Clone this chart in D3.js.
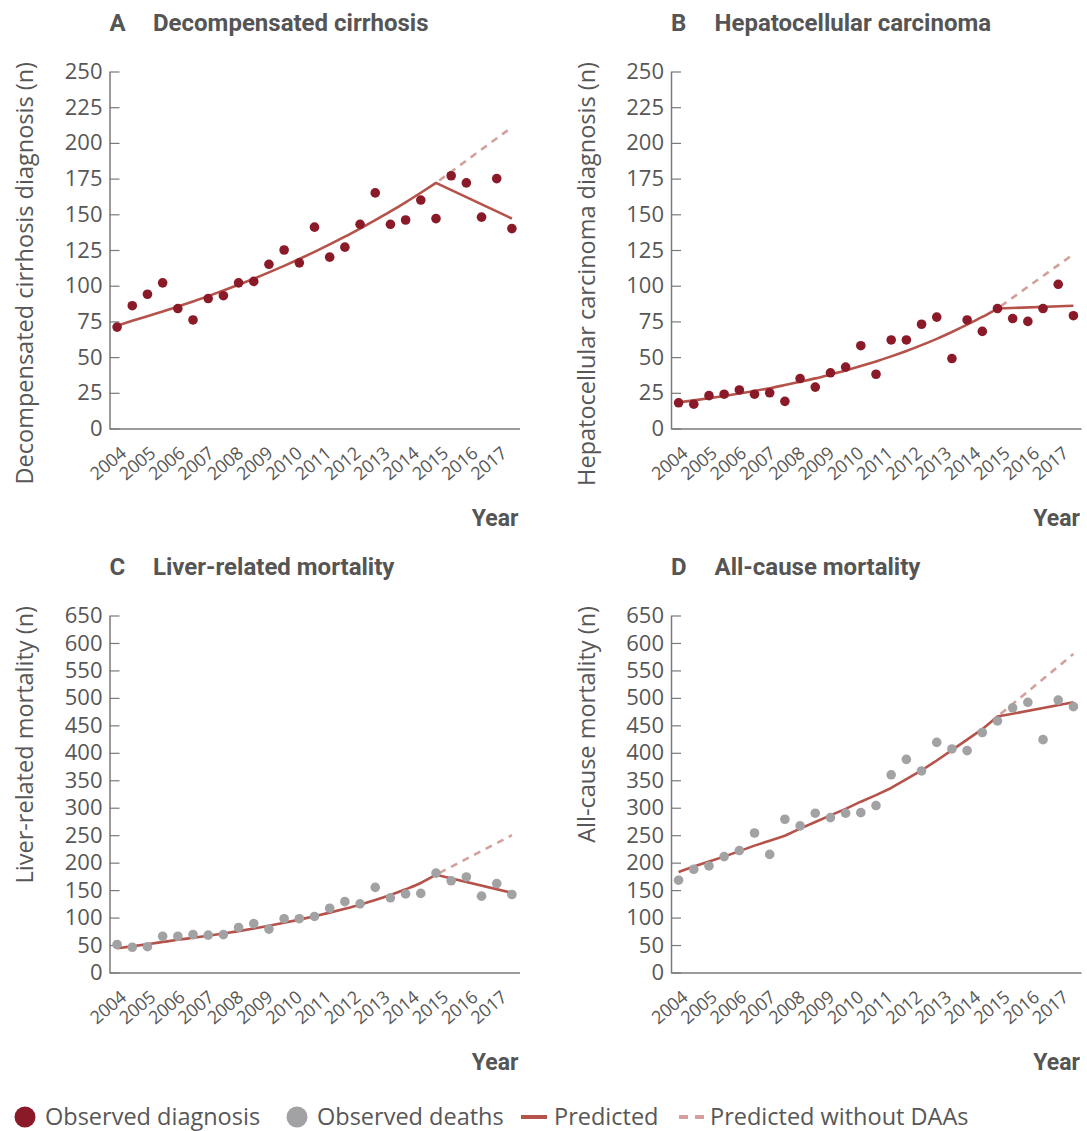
<!DOCTYPE html>
<html>
<head>
<meta charset="utf-8">
<script src="https://cdn.jsdelivr.net/npm/d3@7"></script>
<style>
  html, body { margin: 0; padding: 0; background: #fff; }
  svg { display: block; }
  .tick-y { font-family: "Open Sans", sans-serif; font-weight: 400; font-size: 22px; fill: #575757; }
  .tick-x { font-family: "Open Sans", sans-serif; font-weight: 400; font-size: 18px; letter-spacing: -0.3px; fill: #575757; }
  .axis-title { font-family: "Open Sans", sans-serif; font-weight: 400; font-size: 23.5px; fill: #575757; }
  .panel-title { font-family: Roboto, sans-serif; font-weight: 700; font-size: 24px; fill: #555; }
  .year-label { font-family: Roboto, sans-serif; font-weight: 700; font-size: 23px; fill: #555; }
  .legend-text { font-family: "Open Sans", sans-serif; font-weight: 400; font-size: 23.5px; fill: #575757; }
</style>
</head>
<body>
<svg id="chart" width="1087" height="1131"></svg>
<script>
// Half-year observation periods (start of each half year)
const periods = [2004, 2004.5, 2005, 2005.5, 2006, 2006.5, 2007, 2007.5, 2008, 2008.5,
                 2009, 2009.5, 2010, 2010.5, 2011, 2011.5, 2012, 2012.5, 2013, 2013.5,
                 2014, 2014.5, 2015, 2015.5, 2016, 2016.5, 2017];
// Year tick labels
const years = [2004, 2005, 2006, 2007, 2008, 2009, 2010, 2011, 2012, 2013, 2014, 2015, 2016, 2017];

// Observed counts per half year
const cirrhosisObserved = [71, 86, 94, 102, 84, 76, 91, 93, 102, 103, 115, 125, 116, 141, 120, 127,
                           143, 165, 143, 146, 160, 147, 177, 172, 148, 175, 140];
const hccObserved = [18, 17, 23, 24, 27, 24, 25, 19, 35, 29, 39, 43, 58, 38, 62, 62,
                     73, 78, 49, 76, 68, 84, 77, 75, 84, 101, 79];
const liverDeathsObserved = [51, 46, 47, 66, 66, 69, 68, 69, 82, 89, 79, 98, 98, 102, 117, 129,
                             125, 155, 136, 143, 144, 181, 167, 174, 139, 162, 142];
const allDeathsObserved = [168, 188, 194, 211, 222, 254, 215, 279, 267, 290, 282, 290, 291, 304, 360, 388,
                           367, 419, 407, 404, 437, 458, 482, 492, 424, 496, 484];

// Model fit before DAA scale-up (periods 2004 .. 2014.5)
const cirrhosisFit = [72, 75.4, 78.6, 81.9, 85.4, 89.0, 92.7, 96.6, 100.7, 104.9, 109.3, 113.9, 118.7,
                      123.7, 128.9, 134.3, 140.0, 145.9, 152.0, 158.4, 165.1, 172];
const hccFit = [18.3, 19.7, 21.2, 22.8, 24.5, 26.3, 28.2, 30.4, 32.7, 35.1, 37.8, 40.6, 43.7, 47.0,
                50.5, 54.3, 58.4, 62.8, 67.6, 72.7, 78.1, 84.0];
const liverDeathsFit = [44, 47.6, 51.5, 55.5, 59.5, 63.2, 67.0, 71.0, 75.3, 80.0, 85.0, 90.5, 96.3,
                        102.5, 109.0, 116.0, 123.5, 131.8, 141.0, 151.5, 163.0, 178];
const allDeathsFit = [183, 193, 202, 211, 221, 231, 240, 249, 262, 274, 286, 298, 311, 323, 336, 352,
                      368, 386, 405, 424, 443, 466];

// Predicted after the break (2014.5 -> 2017), with and without DAAs
const breakPeriods = [2014.5, 2017];
const cirrhosisPredicted = [172, 147];
const cirrhosisNoDAA = [172, 211];
const hccPredicted = [84, 86];
const hccNoDAA = [84, 122];
const liverDeathsPredicted = [178, 145];
const liverDeathsNoDAA = [178, 250];
const allDeathsPredicted = [466, 492];
const allDeathsNoDAA = [466, 580];

const panels = [
  { letter: "A", title: "Decompensated cirrhosis", yTitle: "Decompensated cirrhosis diagnosis (n)",
    observed: cirrhosisObserved, fit: cirrhosisFit, pred: cirrhosisPredicted, noDAA: cirrhosisNoDAA,
    yMax: 250, yStep: 25, kind: "diag", col: 0, row: 0, smooth: true },
  { letter: "B", title: "Hepatocellular carcinoma", yTitle: "Hepatocellular carcinoma diagnosis (n)",
    observed: hccObserved, fit: hccFit, pred: hccPredicted, noDAA: hccNoDAA,
    yMax: 250, yStep: 25, kind: "diag", col: 1, row: 0, smooth: true },
  { letter: "C", title: "Liver-related mortality", yTitle: "Liver-related mortality (n)",
    observed: liverDeathsObserved, fit: liverDeathsFit, pred: liverDeathsPredicted, noDAA: liverDeathsNoDAA,
    yMax: 650, yStep: 50, kind: "death", col: 0, row: 1, smooth: true },
  { letter: "D", title: "All-cause mortality", yTitle: "All-cause mortality (n)",
    observed: allDeathsObserved, fit: allDeathsFit, pred: allDeathsPredicted, noDAA: allDeathsNoDAA,
    yMax: 650, yStep: 50, kind: "death", col: 1, row: 1, smooth: false }
];

const colors = {
  diag: "#8b1a29",
  death: "#a2a2a5",
  line: "#b5524a",
  dashed: "#d3a19b",
  axis: "#7a7a7a"
};

const colX = [109.5, 671];      // y-axis position per column
const plotW = 410;
const rowTop = [71.5, 615.5];    // top tick per row
const rowZero = [428.5, 972.5];  // zero line per row

const svg = d3.select("#chart");

panels.forEach(p => {
  const x0 = colX[p.col], x1 = x0 + plotW;
  const yTop = rowTop[p.row], yZero = rowZero[p.row];

  const x = d3.scalePoint().domain(periods).range([x0, x1]).padding(0.5);
  const xBand = d3.scaleBand().domain(years).range([x0, x1]);
  const y = d3.scaleLinear().domain([0, p.yMax]).range([yZero, yTop]);

  const g = svg.append("g");

  // y axis with inward ticks
  const yAxis = g.append("g")
    .attr("transform", `translate(${x0},0)`)
    .call(d3.axisLeft(y).tickValues(d3.range(0, p.yMax + 1, p.yStep))
      .tickSizeInner(-10).tickSizeOuter(0).tickPadding(7));
  yAxis.selectAll(".domain").attr("stroke", colors.axis).attr("stroke-width", 1.5);
  yAxis.selectAll(".tick line").attr("stroke", colors.axis).attr("stroke-width", 1.2);
  yAxis.selectAll(".tick text").attr("class", "tick-y").attr("fill", null);
  yAxis.attr("font-size", null).attr("font-family", null);

  // x axis with rotated year labels
  const xAxis = g.append("g")
    .attr("transform", `translate(0,${yZero})`)
    .call(d3.axisBottom(xBand).tickSize(0).tickSizeOuter(0));
  xAxis.selectAll(".domain").attr("stroke", colors.axis).attr("stroke-width", 1.5);
  xAxis.selectAll(".tick text")
    .attr("class", "tick-x").attr("fill", null)
    .attr("x", 0).attr("y", 0).attr("dy", "0.71em")
    .attr("text-anchor", "end")
    .attr("transform", "translate(-5,17) rotate(-40)");
  xAxis.attr("font-size", null).attr("font-family", null);

  // Titles
  g.append("text").attr("class", "panel-title")
    .attr("x", x0).attr("y", yTop - 40.5).text(p.letter);
  g.append("text").attr("class", "panel-title")
    .attr("x", x0 + 43.5).attr("y", yTop - 40.5).text(p.title);
  g.append("text").attr("class", "year-label")
    .attr("x", x1 - 1).attr("y", yZero + 97).attr("text-anchor", "end").text("Year");
  g.append("text").attr("class", "axis-title")
    .attr("text-anchor", "end")
    .attr("transform", `translate(${x0 - 76.5},${yTop - 9.5}) rotate(-90)`)
    .text(p.yTitle);

  const line = d3.line().x(d => x(d[0])).y(d => y(d[1]));
  const fitLine = d3.line().x(d => x(d[0])).y(d => y(d[1]))
    .curve(p.smooth ? d3.curveMonotoneX : d3.curveLinear);

  // Predicted without DAAs (dashed)
  g.append("path")
    .attr("d", line(breakPeriods.map((t, i) => [t, p.noDAA[i]])))
    .attr("fill", "none").attr("stroke", colors.dashed)
    .attr("stroke-width", 2.6).attr("stroke-dasharray", "7,6")
    .attr("stroke-dashoffset", -4);

  // Predicted: model fit, then post-break segment
  const fitPts = p.fit.map((v, i) => [periods[i], v]);
  const postPts = breakPeriods.map((t, i) => [t, p.pred[i]]);
  g.append("path")
    .attr("d", fitLine(fitPts) + line(postPts).replace(/^M/, "L"))
    .attr("fill", "none").attr("stroke", colors.line)
    .attr("stroke-width", 2.6).attr("stroke-linejoin", "round");

  // Observed points
  g.append("g").selectAll("circle")
    .data(p.observed)
    .join("circle")
    .attr("cx", (d, i) => x(periods[i]))
    .attr("cy", d => y(d))
    .attr("r", 4.8)
    .attr("fill", p.kind === "diag" ? colors.diag : colors.death);
});

// Legend
const legendY = 1117;
const legend = svg.append("g");
const legendItems = [
  { type: "dot", color: colors.diag, label: "Observed diagnosis", x: 25 },
  { type: "dot", color: colors.death, label: "Observed deaths", x: 297 },
  { type: "line", color: colors.line, label: "Predicted", x: 521 },
  { type: "dash", color: colors.dashed, label: "Predicted without DAAs", x: 679 }
];
legendItems.forEach(it => {
  let textX;
  if (it.type === "dot") {
    legend.append("circle").attr("cx", it.x).attr("cy", legendY).attr("r", 10.5).attr("fill", it.color);
    textX = it.x + 20;
  } else if (it.type === "line") {
    legend.append("line").attr("x1", it.x).attr("x2", it.x + 26).attr("y1", legendY).attr("y2", legendY)
      .attr("stroke", it.color).attr("stroke-width", 4);
    textX = it.x + 33;
  } else {
    legend.append("line").attr("x1", it.x).attr("x2", it.x + 25).attr("y1", legendY).attr("y2", legendY)
      .attr("stroke", it.color).attr("stroke-width", 4).attr("stroke-dasharray", "9,7");
    textX = it.x + 31;
  }
  legend.append("text").attr("class", "legend-text")
    .attr("x", textX).attr("y", legendY + 8).text(it.label);
});
</script>
</body>
</html>
